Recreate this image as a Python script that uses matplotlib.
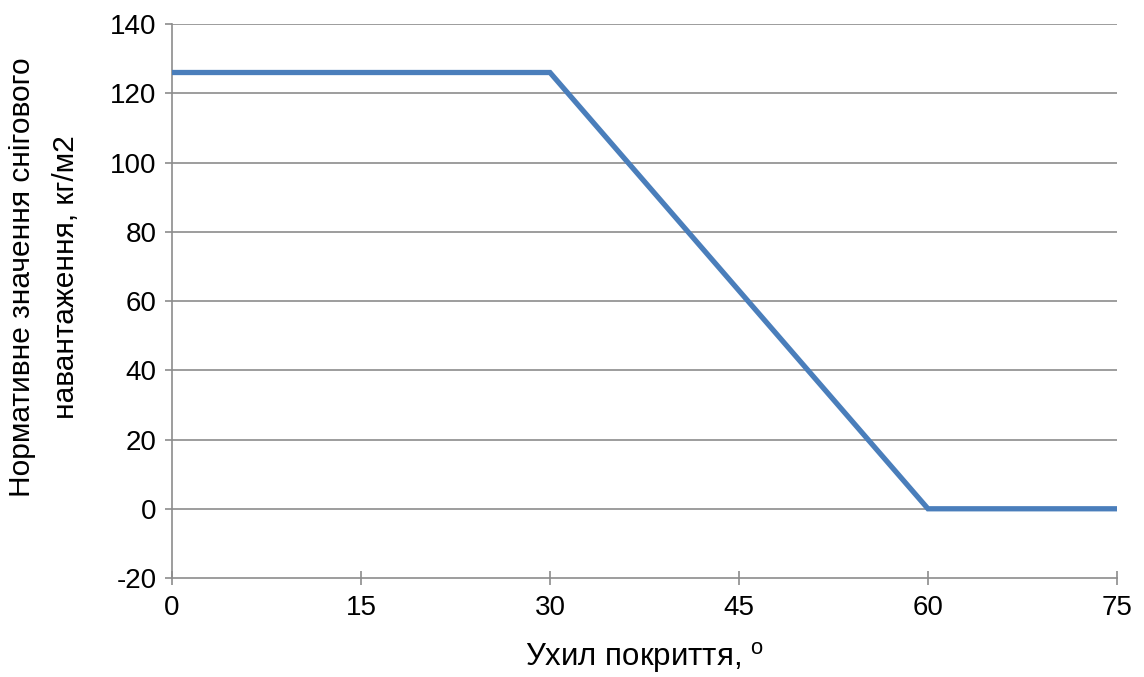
import matplotlib.pyplot as plt

# roof slope (degrees) vs normative snow load (kg/m2)
slope = [0, 30, 60, 75]
load = [126, 126, 0, 0]

x_ticks = [0, 15, 30, 45, 60, 75]
y_ticks = [-20, 0, 20, 40, 60, 80, 100, 120, 140]

plt.rcParams['font.family'] = ['Liberation Sans', 'DejaVu Sans']
plt.rcParams['axes.unicode_minus'] = False

fig = plt.figure(figsize=(11.44, 6.77), dpi=100)
ax = fig.add_axes([0.1503, 0.1462, 0.8261, 0.8183])

grid_color = '#8c8c8c'
for y in y_ticks[1:]:
    ax.axhline(y, color=grid_color, linewidth=1.2, zorder=1)

ax.plot(slope, load, color='#4a7ebb', linewidth=3.8, solid_joinstyle='miter', zorder=3)

ax.set_xlim(0, 75)
ax.set_ylim(-20, 140)
ax.set_xticks(x_ticks)
ax.set_yticks(y_ticks)
ax.tick_params(axis='x', direction='inout', length=10, width=1.2, color=grid_color,
               labelsize=20, pad=7)
ax.tick_params(axis='y', direction='out', length=5, width=1.2, color=grid_color,
               labelsize=20, pad=6)

for side in ['top', 'right']:
    ax.spines[side].set_visible(False)
for side in ['left', 'bottom']:
    ax.spines[side].set_color(grid_color)
    ax.spines[side].set_linewidth(1.2)

ax.set_xlabel('Ухил покриття, $^\\mathregular{o}$', fontsize=22.5, labelpad=14)
ax.set_ylabel('Нормативне значення снігового\nнавантаження, кг/м2', fontsize=21.5,
              linespacing=1.75)
ax.yaxis.set_label_coords(-0.097, 0.543)

fig.savefig('out.png', dpi=100)
